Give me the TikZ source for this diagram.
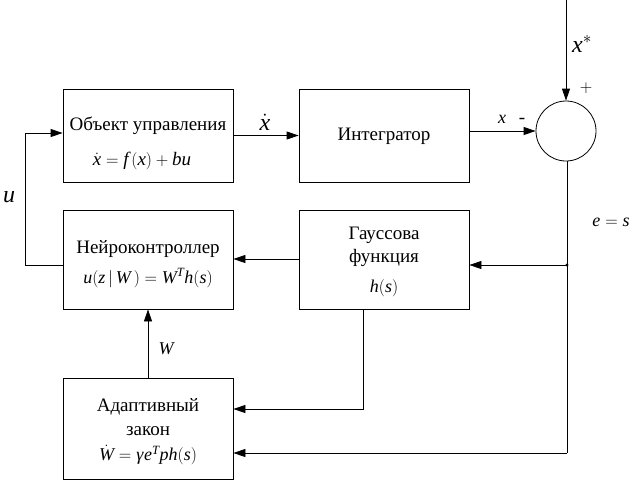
\documentclass[tikz,border=0pt]{standalone}
\usepackage{mathspec}
\setmainfont{Liberation Serif}
\setmathsfont(Digits,Latin,Greek){Liberation Serif}
\usetikzlibrary{arrows.meta}
\begin{document}
\begin{tikzpicture}[x=1pt,y=-1pt,
  blk/.style={draw, line width=0.8pt, minimum width=170pt, inner sep=0},
  lbl/.style={font=\fontsize{19}{21}\selectfont, inner sep=0},
  sml/.style={font=\fontsize{16}{18}\selectfont, inner sep=0},
  mlbl/.style={font=\fontsize{18}{20}\selectfont, inner sep=0},
  flbl/.style={font=\fontsize{19}{21}\selectfont, inner sep=0},
  big/.style={font=\fontsize{24}{26}\selectfont, inner sep=0},
  arr/.style={-{Triangle[length=12pt,width=8pt]}, line width=0.8pt},
  ln/.style={line width=0.8pt}]
\useasboundingbox (0,0) rectangle (631,480);
% blocks
\node[blk, minimum height=93pt] (obj) at (148,135.5) {};
\node[blk, minimum height=93pt] (int) at (384,135.5) {};
\node[blk, minimum height=99pt] (neuro) at (148,259.5) {};
\node[blk, minimum height=99pt] (gauss) at (384,259.5) {};
\node[blk, minimum height=101pt] (ada) at (148,428.5) {};
\node[draw, circle, line width=0.8pt, minimum size=60pt, inner sep=0] (sum) at (566,131) {};
% texts
\node[lbl] (t1) at (148,126) {Объект управления};
\node[flbl] (f1) at (142,161) {$\dot x = f\,(x) + bu$};
\node[lbl] (t2) at (384,136) {Интегратор};
\node[lbl] (t3) at (148,249) {Нейроконтроллер};
\node[mlbl] (f3) at (148,278) {$u(z\,|\,W\,) = W^{T} h(s)$};
\node[lbl] (t4a) at (384,235) {Гауссова};
\node[lbl] (t4b) at (384,258) {функция};
\node[mlbl] (f4) at (384,288) {$h(s)$};
\node[lbl] (t5a) at (148,407) {Адаптивный};
\node[lbl] (t5b) at (148,431) {закон};
\node[mlbl] (f5) at (148,455) {$\dot W = \gamma e^{T} p h(s)$};
% signal labels
\node[big] (lxs) at (582,44) {$x^{*}$};
\node[sml] (lplus) at (586,88) {$+$};
\node[mlbl] (lx) at (502,119) {$x$};
\node[lbl] (lminus) at (522,121) {-};
\node[big] (lxd) at (265,122) {$\dot x$};
\node[big] (lu) at (9,197) {$u$};
\node[mlbl] (les) at (611,222) {$e = s$};
\node[mlbl] (lw) at (166,349) {$W$};
% connectors
\coordinate (top) at (566,0);
\draw[arr] (top) -- (sum.north);
\draw[arr] (obj.east) -- (int.west);
\draw[arr] (sum.west -| int.east) -- (sum.west);
\coordinate (bot) at (567,453);
\coordinate (j) at (567,265);
\draw[ln] (sum.south -| bot) -- (bot);
\draw[arr] (bot) -- (ada.east |- bot);
\fill (j) circle (1.6pt);
\draw[arr] (j) -- (gauss.east |- j);
\coordinate (gl) at (299,259);
\draw[arr] (gauss.west |- gl) -- (neuro.east |- gl);
\coordinate (ul) at (25,265);
\coordinate (ut) at (25,133);
\draw[arr] (neuro.west |- ul) -- (ul) -- (ut) -- (obj.west |- ut);
\draw[arr] (ada.north) -- (neuro.south);
\coordinate (gb) at (363,409);
\draw[arr] (gauss.south -| gb) -- (gb) -- (ada.east |- gb);
\end{tikzpicture}
\end{document}
